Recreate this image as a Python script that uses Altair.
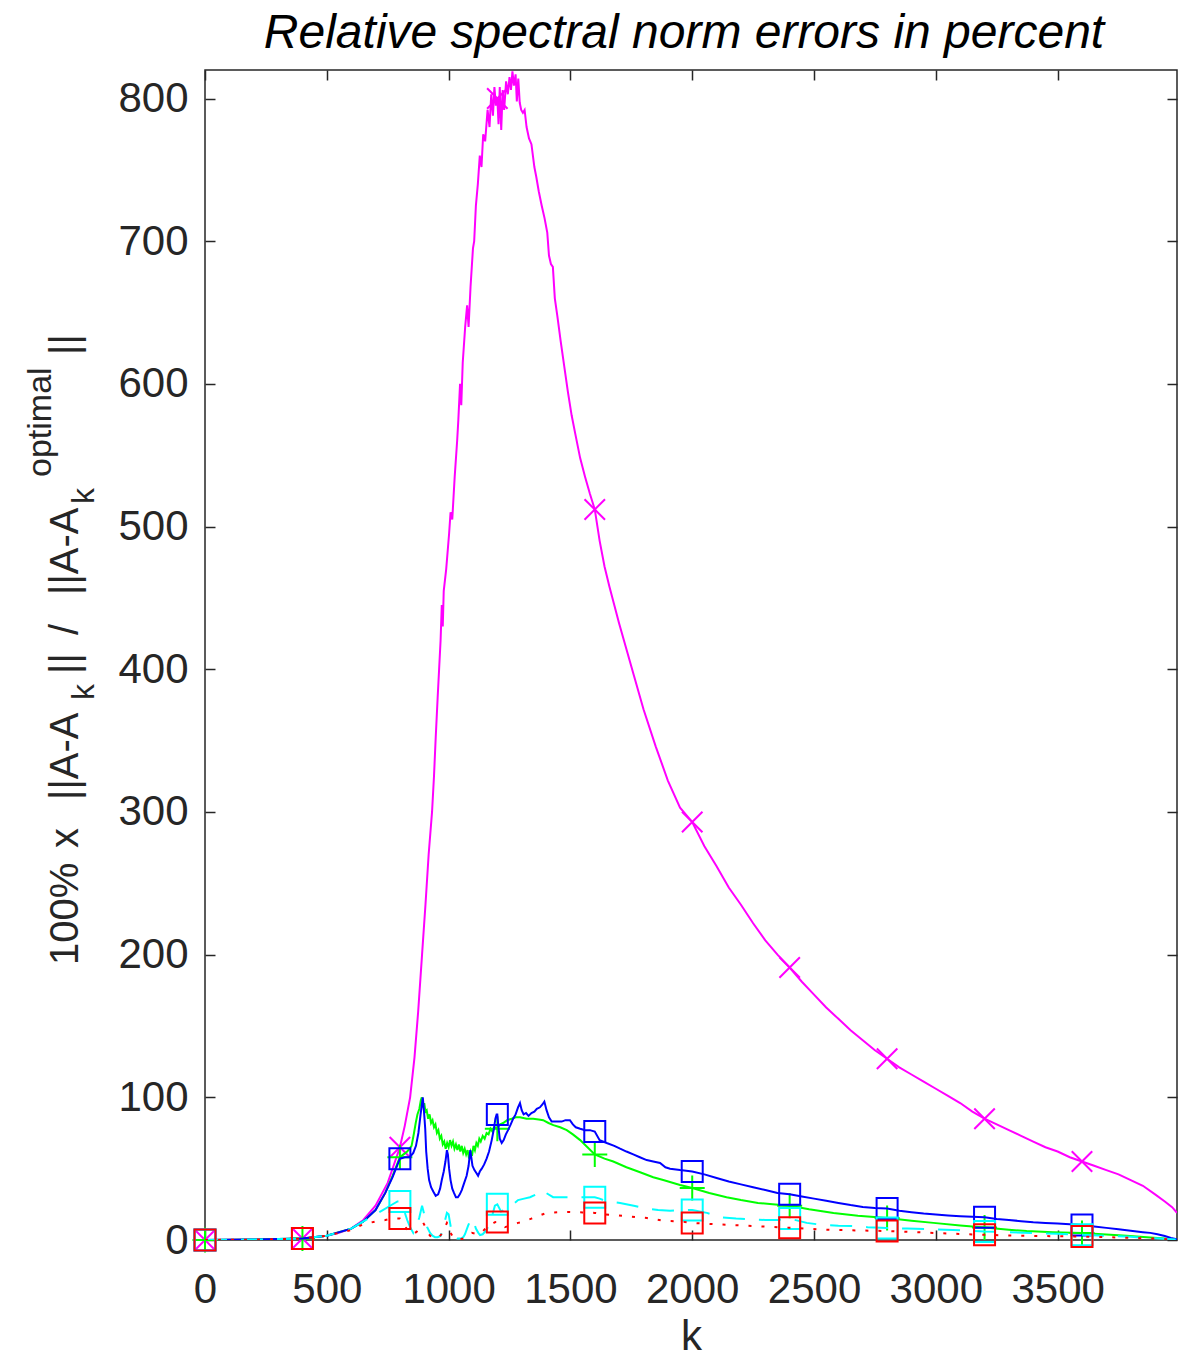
import altair as alt
import pandas as pd

# ---------------------------------------------------------------- data
# every curve carries a marker at these k values
marker_k = [0, 400, 800, 1200, 1600, 2000, 2400, 2800, 3200, 3600]

x_ticks = [0, 500, 1000, 1500, 2000, 2500, 3000, 3500]
y_ticks = [0, 100, 200, 300, 400, 500, 600, 700, 800]

k_magenta = [0, 100, 200, 300, 400, 500, 550, 600, 650, 700, 750, 800, 820, 842, 860, 875, 891, 905,
             918, 932, 940, 947, 955, 961, 967, 972, 976, 980, 990, 1002, 1008, 1015, 1025, 1035,
             1040, 1047, 1052, 1058, 1068, 1076, 1082, 1090, 1100, 1105, 1112, 1120, 1128, 1135,
             1142, 1150, 1160, 1168, 1175, 1182, 1188, 1194, 1200, 1205, 1210, 1216, 1222, 1228,
             1236, 1243, 1250, 1256, 1262, 1268, 1275, 1280, 1286, 1292, 1298, 1305, 1312, 1320,
             1330, 1340, 1352, 1360, 1370, 1382, 1394, 1405, 1412, 1420, 1428, 1436, 1446, 1460,
             1475, 1490, 1505, 1520, 1540, 1560, 1580, 1600, 1620, 1640, 1660, 1680, 1700, 1730,
             1760, 1800, 1850, 1900, 1950, 2000, 2050, 2100, 2150, 2200, 2250, 2300, 2350, 2400,
             2450, 2500, 2550, 2600, 2650, 2700, 2750, 2800, 2850, 2900, 2950, 3000, 3050, 3100,
             3150, 3200, 3250, 3300, 3350, 3400, 3450, 3500, 3550, 3600, 3650, 3700, 3750, 3800,
             3850, 3900, 3940, 3970, 3990]
err_magenta = [0, 0.1, 0.3, 0.6, 1, 3, 5, 8, 14, 24, 40, 65, 80, 100, 128, 160, 200, 235,
               270, 300, 325, 352, 380, 400, 420, 445, 430, 455, 470, 495, 510, 505, 535, 560,
               575, 600, 585, 615, 640, 655, 640, 668, 695, 700, 725, 740, 760, 752,
               775, 770, 792, 780, 803, 788, 808, 795, 800, 782, 808, 778, 806, 792,
               812, 803, 815, 806, 819, 809, 817, 798, 814, 797, 792, 790, 792, 780,
               772, 768, 752, 745, 735, 725, 716, 706, 690, 684, 682, 660, 648, 630,
               612, 594, 578, 565, 548, 535, 523, 512, 490, 472, 458, 445, 432, 414,
               396, 372, 346, 322, 303, 293, 276, 262, 247, 235, 222, 210, 200, 191,
               181, 172, 163, 155, 147, 140, 133, 127, 121, 116, 111, 106, 101, 96,
               90, 85, 81, 77, 73, 69, 65, 62, 58, 55, 52, 49, 46, 42,
               38, 32, 27, 23, 19]

k_blue = [0, 200, 400, 500, 600, 650, 700, 740, 770, 800, 820, 840, 855, 866, 876, 885, 894, 899,
          904, 908, 914, 920, 928, 937, 947, 957, 965, 972, 980, 987, 993, 997, 1002, 1008, 1015,
          1022, 1030, 1038, 1046, 1054, 1064, 1074, 1082, 1089, 1093, 1098, 1106, 1114, 1121,
          1128, 1136, 1146, 1156, 1166, 1177, 1186, 1192, 1197, 1200, 1204, 1210, 1218, 1226,
          1235, 1244, 1255, 1265, 1275, 1285, 1293, 1300, 1308, 1318, 1328, 1340, 1352, 1362,
          1375, 1385, 1393, 1402, 1412, 1423, 1440, 1464, 1480, 1498, 1510, 1522, 1540, 1560,
          1580, 1600, 1620, 1649, 1680, 1704, 1730, 1758, 1785, 1813, 1840, 1868, 1890, 1909,
          1950, 2000, 2050, 2100, 2150, 2200, 2250, 2300, 2350, 2400, 2450, 2500, 2550, 2600,
          2650, 2700, 2750, 2800, 2850, 2900, 2950, 3000, 3050, 3100, 3150, 3200, 3250, 3300,
          3350, 3400, 3450, 3500, 3550, 3600, 3650, 3700, 3750, 3800, 3850, 3880, 3910, 3940,
          3965, 3990]
err_blue = [0, 0.3, 1, 3, 8, 13, 21, 33, 44, 57, 58, 58, 61, 66, 75, 88, 100, 90,
            78, 62, 50, 42, 37, 34, 31, 32, 36, 42, 48, 55, 63, 60, 50, 42, 36,
            33, 30, 30, 32, 35, 40, 45, 52, 63, 58, 52, 49, 47, 45,
            48, 50, 53, 57, 62, 70, 78, 85, 88, 88, 80, 71, 68, 70,
            74, 77, 81, 85, 88, 93, 96, 91, 88, 89, 87, 89, 90, 92,
            93, 95, 97, 91, 86, 83, 83, 83, 84, 84, 81, 79, 78, 77,
            77, 76, 70, 68, 66, 64, 62, 60, 58, 56, 55, 54, 51, 50,
            49, 48, 46, 43.5, 41, 39, 37, 35, 33, 32, 30.5, 29, 27.5, 26,
            24.5, 23.2, 22.5, 22, 20.5, 19.5, 18.5, 17.8, 17.2, 16.7, 16.3, 16, 14.8, 14,
            13.2, 12.5, 12, 11.5, 11, 10.5, 9.5, 8.5, 7.5, 6.5, 5.5, 5, 4, 2.8,
            1.5, 0.5]

k_green = [0, 200, 400, 500, 600, 650, 700, 740, 770, 800, 815, 830, 848, 858, 865, 872, 880, 886,
           890, 895, 900, 905, 910, 916, 922, 928, 934, 940, 946, 952, 958, 964, 970, 976, 982,
           988, 994, 1000, 1006, 1012, 1018, 1024, 1030, 1036, 1042, 1048, 1054, 1060, 1066,
           1072, 1078, 1084, 1090, 1096, 1102, 1108, 1114, 1120, 1126, 1132, 1140, 1148, 1156,
           1164, 1172, 1180, 1190, 1200, 1210, 1224, 1240, 1259, 1275, 1293, 1320, 1347, 1370,
           1388, 1410, 1430, 1458, 1485, 1510, 1540, 1570, 1600, 1640, 1676, 1730, 1786, 1840,
           1881, 1950, 2000, 2070, 2141, 2200, 2270, 2330, 2400, 2480, 2580, 2680, 2800, 2900,
           2990, 3100, 3200, 3300, 3373, 3480, 3600, 3700, 3783, 3880, 3990]
err_green = [0, 0.3, 1, 3, 8, 13, 21, 33, 45, 58, 60, 62, 66, 75, 82, 88, 92, 98,
             100, 93, 96, 90, 91, 85, 88, 82, 84, 79, 81, 75, 77, 71, 73, 67, 69,
             64, 68, 65, 70, 66, 69, 64, 67, 63, 67, 62, 66, 61, 64,
             60, 63, 57, 62, 59, 66, 63, 68, 66, 71, 69, 73, 71, 75,
             74, 78, 76, 79, 78, 81, 82, 84, 85, 86, 86, 85, 85, 84.5,
             84, 82, 80.5, 79, 77, 74, 70, 65, 60, 57, 55, 51, 47.5, 44,
             42, 38.5, 36.5, 33, 30, 28, 26, 25, 24, 21.5, 19, 17, 15.4, 13.5,
             12, 10.2, 8.8, 7.2, 6.3, 5.5, 4.9, 3.9, 3, 1.8, 0.5]

k_cyan = [0, 200, 400, 500, 600, 650, 700, 730, 760, 790, 800, 815, 830, 842, 855, 868, 880, 891,
          897, 903, 912, 924, 934, 944, 955, 968, 980, 993, 1000, 1006, 1013, 1022, 1035, 1050,
          1060, 1067, 1080, 1092, 1101, 1112, 1122, 1129, 1140, 1156, 1170, 1182, 1190, 1200,
          1215, 1240, 1265, 1285, 1310, 1334, 1360, 1385, 1400, 1429, 1470, 1506, 1550, 1600,
          1620, 1650, 1704, 1760, 1814, 1860, 1909, 1960, 2000, 2060, 2114, 2180, 2237, 2300,
          2350, 2400, 2470, 2537, 2600, 2660, 2720, 2800, 2882, 2990, 3110, 3200, 3300, 3400,
          3500, 3600, 3700, 3800, 3900, 3990]
err_cyan = [0, 0.3, 1, 3, 8, 13, 18, 21, 24, 27, 27, 22, 14, 9, 5, 9, 16, 24,
            20, 16, 9, 5, 3, 2, 2, 3, 10, 19, 18, 12, 5, 2, 1, 1,
            2, 4, 10, 15, 14, 8, 5, 3.5, 4, 7, 13, 19, 24, 25,
            20, 22, 25, 28, 29, 30, 32, 35, 33, 30, 30, 30, 30, 30,
            29, 27, 26, 24, 22, 21, 20.5, 21, 21, 19, 16, 15, 14.5, 14,
            14, 15, 12, 10.5, 10, 9.8, 9, 8.4, 8, 7.5, 6.8, 6, 5.5, 4.8,
            4.3, 3.6, 3, 2.2, 1.2, 0.3]

k_red = [0, 200, 400, 500, 600, 650, 700, 740, 770, 800, 815, 830, 845, 855, 870, 885, 896, 905,
         914, 924, 934, 944, 960, 975, 985, 993, 1000, 1008, 1018, 1030, 1045, 1060, 1075, 1095,
         1110, 1125, 1140, 1156, 1175, 1190, 1200, 1215, 1231, 1250, 1268, 1285, 1310, 1340,
         1370, 1402, 1450, 1498, 1550, 1600, 1640, 1676, 1740, 1814, 1880, 1950, 2000, 2100,
         2200, 2300, 2400, 2520, 2650, 2800, 2900, 3000, 3100, 3200, 3300, 3400, 3500, 3600,
         3700, 3800, 3900, 3990]
err_red = [0, 0.3, 1, 3, 7, 11, 13, 14, 15, 15, 12, 7, 5, 4, 6, 9, 12, 9,
           5, 3, 1.5, 1, 2, 5, 9, 12, 10, 5, 2, 0.5, 0.3, 1, 3, 5,
           4.5, 4, 6, 9, 11, 12.5, 12.6, 11, 9, 10, 11, 12, 13, 15,
           17, 19, 19.5, 19.7, 19.3, 19, 18, 17.5, 16.5, 15.4, 13.5, 13, 12, 11,
           10.2, 9.4, 8.6, 7.4, 6.8, 6.3, 5.6, 4.9, 4.2, 3.6, 3.2, 2.9, 2.6, 2.4,
           2, 1.5, 1, 0.3]

# ---------------------------------------------------------------- styling
FONT = "Liberation Sans"
INK = "#262626"
PLOT_W, PLOT_H = 972, 1170

x_scale = alt.Scale(domain=[0, 3990], nice=False, zero=False)
y_scale = alt.Scale(domain=[0, 820], nice=False, zero=False)

# MATLAB-like inward ticks: axis pulled 10px into the frame, ticks 10px long
x_axis = alt.Axis(orient="bottom", values=x_ticks, format="d", title="k", offset=-10,
                  tickSize=10, tickColor=INK, tickWidth=1.5, labelPadding=29, labelFontSize=42,
                  labelFont=FONT, labelColor=INK, titleFont=FONT, titleFontSize=42,
                  titleColor=INK, titleFontWeight="normal", titlePadding=6, domain=False,
                  grid=False, labelFlush=False, labelOverlap=False)
y_axis = alt.Axis(orient="left", values=y_ticks, format="d", title=None, offset=-10,
                  tickSize=10, tickColor=INK, tickWidth=1.5, labelPadding=17, labelFontSize=42,
                  labelFont=FONT, labelColor=INK, domain=False, grid=False,
                  labelFlush=False, labelOverlap=False)
x_axis_top = alt.Axis(orient="top", values=x_ticks, title=None, offset=-10, tickSize=10,
                      tickColor=INK, tickWidth=1.5, labels=False, domain=False, grid=False)
y_axis_right = alt.Axis(orient="right", values=y_ticks, title=None, offset=-10, tickSize=10,
                        tickColor=INK, tickWidth=1.5, labels=False, domain=False, grid=False)

X = alt.X("k:Q", scale=x_scale, axis=x_axis)
Y = alt.Y("err:Q", scale=y_scale, axis=y_axis)

MARK_X = "M-1,-1L1,1M-1,1L1,-1"
MARK_PLUS = "M-1,0L1,0M0,-1L0,1"


def frame(ks, vs):
    return pd.DataFrame({"k": ks, "err": vs})


def curve(ks, vs, color, dash, shape, size):
    df = frame(ks, vs)
    line_kw = dict(color=color, strokeWidth=2, clip=True)
    if dash:
        line_kw["strokeDash"] = dash
        line_kw["strokeCap"] = "butt"
    line = alt.Chart(df).mark_line(**line_kw).encode(x=X, y=Y)
    pts = alt.Chart(df[df["k"].isin(marker_k)]).mark_point(
        shape=shape, size=size, filled=False, stroke=color, strokeWidth=2, opacity=1
    ).encode(x=X, y=Y)
    return [line, pts]


layers = []
layers += curve(k_magenta, err_magenta, "#FF00FF", None, MARK_X, 420)
layers += curve(k_green, err_green, "#00FF00", None, MARK_PLUS, 625)
layers += curve(k_blue, err_blue, "#0000FF", None, "square", 441)
layers += curve(k_cyan, err_cyan, "#00FFFF", [22, 14], "square", 441)
layers += curve(k_red, err_red, "#FF0000", [3, 10], "square", 441)

# y axis title, set piece by piece so the sub/superscripts sit correctly
# (px: baseline offset left of the frame, py: where each piece starts, reading upward)
ylabel_parts = pd.DataFrame({
    "txt": ["100%", "x", "||A-A", "k", "||", "/", "||A-A", "k", "optimal", "||"],
    "px": [-127, -127, -127, -111, -127, -127, -127, -111, -154, -127],
    "py": [895, 778, 730, 630, 604, 565, 525, 434, 407, 285],
    "size": [40, 40, 40, 32, 40, 40, 40, 32, 34, 40],
})
ylabel = alt.Chart(ylabel_parts).mark_text(
    angle=270, align="left", baseline="alphabetic", font=FONT, color=INK
).encode(
    x=alt.X("px:Q", scale=None),
    y=alt.Y("py:Q", scale=None),
    text="txt:N",
    size=alt.Size("size:Q", scale=None, legend=None),
)

main = alt.layer(*layers, ylabel)

# opposite-side ticks (top and right), sharing the same scales
box_ticks = alt.Chart(frame(k_magenta, err_magenta)).mark_point(opacity=0).encode(
    x=alt.X("k:Q", scale=x_scale, axis=x_axis_top),
    y=alt.Y("err:Q", scale=y_scale, axis=y_axis_right),
)

chart = alt.layer(main, box_ticks).resolve_axis(x="independent", y="independent").properties(
    width=PLOT_W,
    height=PLOT_H,
    background="white",
    title=alt.TitleParams(
        "Relative spectral norm errors in percent", font=FONT, fontSize=48,
        fontStyle="italic", fontWeight="normal", color="#000000", anchor="middle",
        baseline="alphabetic", offset=-27, dx=-7,
    ),
    autosize=alt.AutoSizeParams(type="none"),
    padding={"left": 205, "top": 70, "right": 21, "bottom": 122},
).configure_view(stroke=INK, strokeWidth=1.5)

chart.save("out.html", embed_options={"renderer": "svg", "actions": False})
